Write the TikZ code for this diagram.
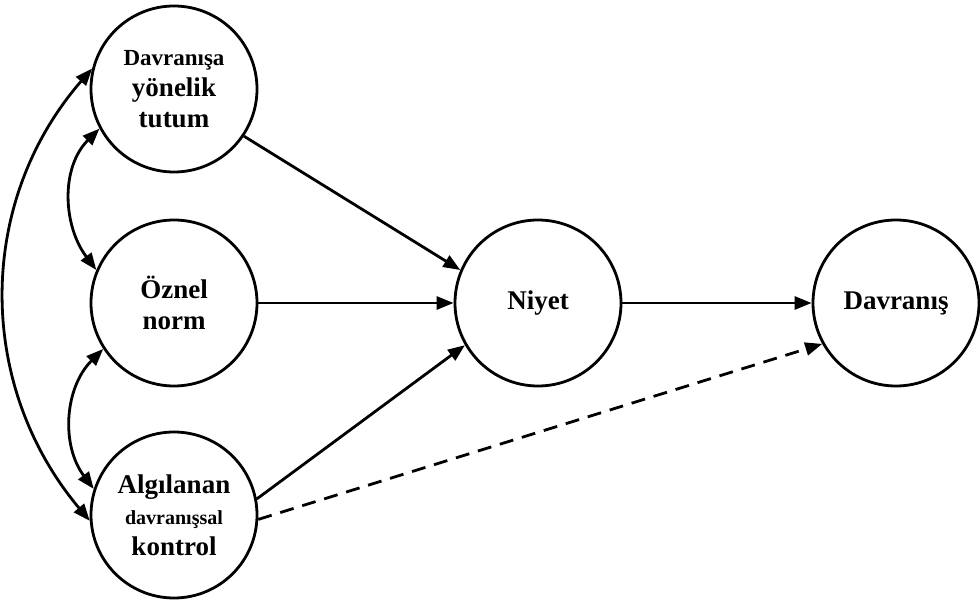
\documentclass[tikz,border=0pt]{standalone}
\usepackage{fontspec}
\setmainfont{Liberation Serif}
\usetikzlibrary{arrows.meta}
\begin{document}
\begin{tikzpicture}[x=1pt,y=1pt,
  bubble/.style={circle,draw,line width=2.8pt,minimum size=166pt,inner sep=0pt,
    align=center,font=\bfseries\fontsize{27}{31}\selectfont},
  conn/.style={line width=2.8pt,-{Triangle[length=17pt,width=13pt]}},
  twoway/.style={line width=2.8pt,{Triangle[length=17pt,width=13pt]}-{Triangle[length=17pt,width=13pt]}},
  dashline/.style={conn,dash pattern=on 14pt off 9pt}]
\fill[white] (0,0) rectangle (980,600);
\useasboundingbox (0,0) rectangle (980,600);
\node[bubble] (att) at (174,511) {{\fontsize{23}{27}\selectfont Davranışa}\\yönelik\\tutum};
\node[bubble] (norm) at (174,297) {Öznel\\norm};
\node[bubble] (pbc) at (174,85) {Algılanan\\{\fontsize{20}{25}\selectfont davranışsal}\\kontrol};
\node[bubble] (int) at (538,297) {Niyet};
\node[bubble] (beh) at (896,297) {Davranış};
\draw[conn] (att.-34) -- (int.157);
\draw[conn] (norm.east) -- (int.west);
\draw[conn] (pbc.11) -- (int.210);
\draw[conn] (int.east) -- (beh.west);
\draw[dashline] (pbc.-3) -- (beh.209);
\draw[twoway] (att.166) to[out=229,in=130] (pbc.184);
\draw[twoway] (att.208) to[out=225,in=127] (norm.157);
\draw[twoway] (norm.213) to[out=225,in=127] (pbc.162);
\end{tikzpicture}
\end{document}
